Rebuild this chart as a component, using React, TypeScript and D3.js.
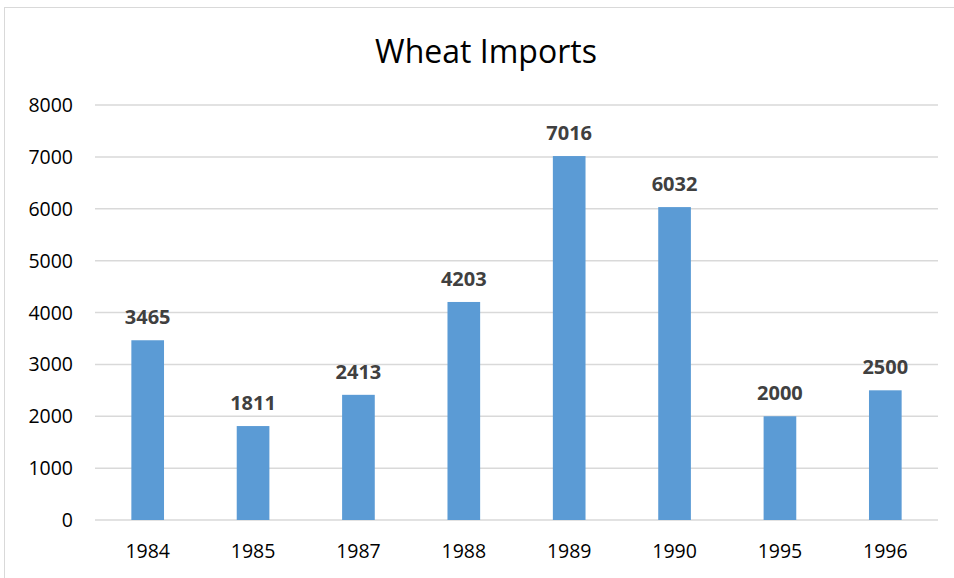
import React from "react";
import * as d3 from "d3";

const categories = ["1984", "1985", "1987", "1988", "1989", "1990", "1995", "1996"];
const values = [3465, 1811, 2413, 4203, 7016, 6032, 2000, 2500];
const yTicks = [0, 1000, 2000, 3000, 4000, 5000, 6000, 7000, 8000];

const W = 954, H = 578;
const left = 95, right = 938, top = 105, bottom = 520;
const font = "'Open Sans', 'Liberation Sans', sans-serif";

export default function App() {
  const x = d3.scaleBand<string>().domain(categories).range([left, right]).paddingInner(0.69).paddingOuter(0.345);
  const y = d3.scaleLinear().domain([0, 8000]).range([bottom, top]);
  return (
    <svg width={W} height={H} style={{ position: "absolute", left: 0, top: 0, background: "#fff" }}>
      <rect x={0} y={0} width={W} height={H} fill="#fff" />
      <rect x={4.5} y={7.5} width={W + 20} height={H + 20} fill="none" stroke="#d9d9d9" strokeWidth={1} />
      <text x={486} y={63} textAnchor="middle" fontFamily={font} fontSize={32} fill="#000">Wheat Imports</text>
      {yTicks.map((t) => (
        <g key={t}>
          <line x1={left} x2={right} y1={y(t)} y2={y(t)} stroke="#d9d9d9" strokeWidth={1.5} />
          <text x={73} y={y(t)} dy="0.36em" textAnchor="end" fontFamily={font} fontSize={19.5} fill="#000">{t}</text>
        </g>
      ))}
      {categories.map((c, i) => (
        <g key={c}>
          <rect x={x(c)} y={y(values[i])} width={x.bandwidth()} height={y(0) - y(values[i])} fill="#5b9bd5" />
          <text x={(x(c) as number) + x.bandwidth() / 2} y={y(values[i]) - 16} textAnchor="middle" fontFamily={font} fontSize={20} fontWeight="bold" fill="#404040">{values[i]}</text>
          <text x={(x(c) as number) + x.bandwidth() / 2} y={558} textAnchor="middle" fontFamily={font} fontSize={19.5} fill="#000">{c}</text>
        </g>
      ))}
    </svg>
  );
}
